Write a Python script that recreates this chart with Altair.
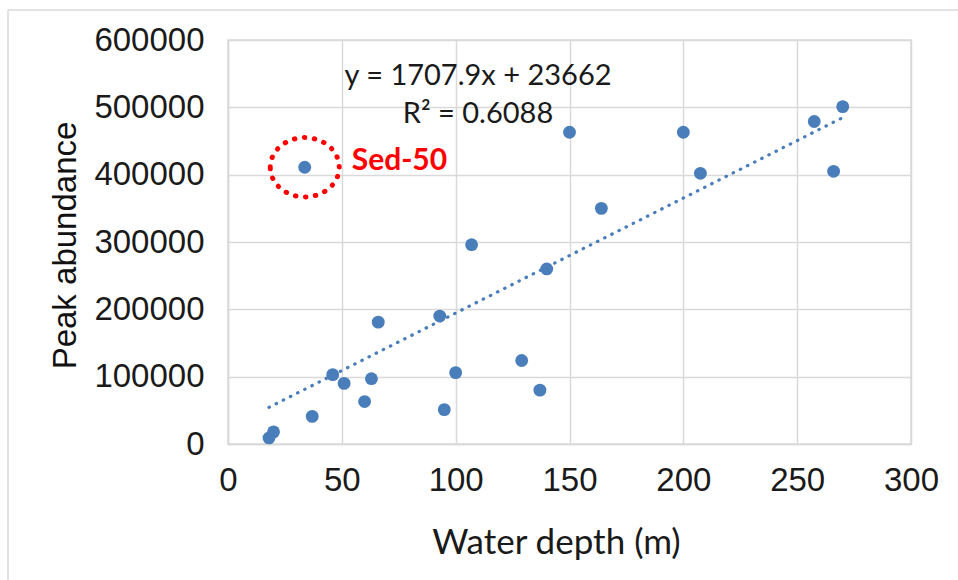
import altair as alt
import pandas as pd

# ---------------- data ----------------
depth = [18, 20, 33.7, 37, 46, 51, 60, 63, 66, 93, 95, 100, 107, 129, 137, 140,
         150, 164, 200, 207.5, 257.5, 266, 270]
abundance = [9000, 18000, 411000, 41000, 103000, 90000, 63000, 97000, 181000,
             190000, 51000, 106000, 296000, 124000, 80000, 260000, 463000,
             350000, 463000, 402000, 479000, 405000, 501000]

slope = 1707.9
intercept = 23662
r_squared = 0.6088

outlier_name = ["Sed-50"]
outlier_depth = [33.7]
outlier_abund = [411000]

x_ticks = [0, 50, 100, 150, 200, 250, 300]
y_ticks = [0, 100000, 200000, 300000, 400000, 500000, 600000]

df = pd.DataFrame({"depth": depth, "abundance": abundance})
out_df = pd.DataFrame({"depth": outlier_depth, "abundance": outlier_abund,
                       "name": outlier_name})

# ---------------- style ----------------
blue = "#4a7ebb"
grid = "#d9d9d9"
ink = "#1a1a1a"
arial = "Liberation Sans"
calibri = "Lato"

x_enc = alt.X(
    "depth:Q",
    scale=alt.Scale(domain=[0, 300], nice=False, zero=False),
    axis=alt.Axis(
        values=x_ticks, title="Water depth (m)", grid=True, ticks=False,
        labelFont=arial, labelFontSize=33, labelColor=ink, labelPadding=20,
        labelFlush=False, labelOverlap=False,
        titleFont=calibri, titleFontSize=35, titleColor=ink,
        titleFontWeight="normal", titleX=328, titleY=109,
        titleAlign="center", titleBaseline="alphabetic",
    ),
)
y_enc = alt.Y(
    "abundance:Q",
    scale=alt.Scale(domain=[0, 600000], nice=False, zero=True),
    axis=alt.Axis(
        values=y_ticks, format="d", title="Peak abundance", grid=True,
        ticks=False, labelFont=arial, labelFontSize=33, labelColor=ink,
        labelPadding=24, labelFlush=False, labelOverlap=False,
        titleFont=arial, titleFontSize=33, titleColor="#111111",
        titleFontWeight="normal", titleAngle=270, titleX=-153, titleY=205,
        titleAlign="center", titleBaseline="alphabetic",
    ),
)

base = alt.Chart(df)

points = base.mark_circle(size=165, color=blue, opacity=1).encode(x=x_enc, y=y_enc)

trend = base.transform_calculate(
    abundance=f"{slope} * datum.depth + {intercept}"
).mark_line(
    color=blue, strokeWidth=3.2, strokeDash=[0.5, 7.5], strokeCap="round"
).encode(x=x_enc, y=y_enc, order="depth:Q")

ellipse = "M -1,0 A 1,0.86 0 1,1 1,0 A 1,0.86 0 1,1 -1,0 Z"
ring = alt.Chart(out_df).mark_point(
    shape=ellipse, size=69 * 69, filled=False, fill="transparent",
    stroke="#ff0000", strokeWidth=5, strokeDash=[0.5, 9.5], strokeCap="round",
    opacity=1,
).encode(x=x_enc, y=y_enc)

label = alt.Chart(out_df).mark_text(
    align="left", baseline="middle", dx=47, dy=-6, font=calibri,
    fontSize=30, fontWeight="bold", color="#ff0000",
).encode(x=x_enc, y=y_enc, text="name:N")

one = alt.Data(values=[{}])
eq1 = alt.Chart(one).mark_text(
    text=f"y = {slope}x + {intercept}", font=calibri, fontSize=29, color=ink,
    align="center", baseline="alphabetic",
).encode(x=alt.value(250), y=alt.value(45))
eq2 = alt.Chart(one).mark_text(
    text=f"R² = {r_squared}", font=calibri, fontSize=29, color=ink,
    align="center", baseline="alphabetic",
).encode(x=alt.value(250), y=alt.value(83))

frame_top = alt.Chart(one).mark_rule(color=grid, strokeWidth=1.5).encode(
    x=alt.value(-220), x2=alt.value(730), y=alt.value(-30))
frame_left = alt.Chart(one).mark_rule(color=grid, strokeWidth=1.5).encode(
    x=alt.value(-220), y=alt.value(-30), y2=alt.value(540))

chart = alt.layer(
    frame_top, frame_left, trend, points, ring, label, eq1, eq2
).properties(
    width=683, height=404,
    autosize=alt.AutoSizeParams(type="none"),
    padding={"left": 228, "top": 40, "right": 47, "bottom": 136},
    background="white",
).configure_view(
    stroke=grid, strokeWidth=1.5
).configure_axis(
    gridColor=grid, gridWidth=1.5, domainColor=grid, domainWidth=1.5,
)

chart.save("out.html", embed_options={"renderer": "svg", "actions": False})
